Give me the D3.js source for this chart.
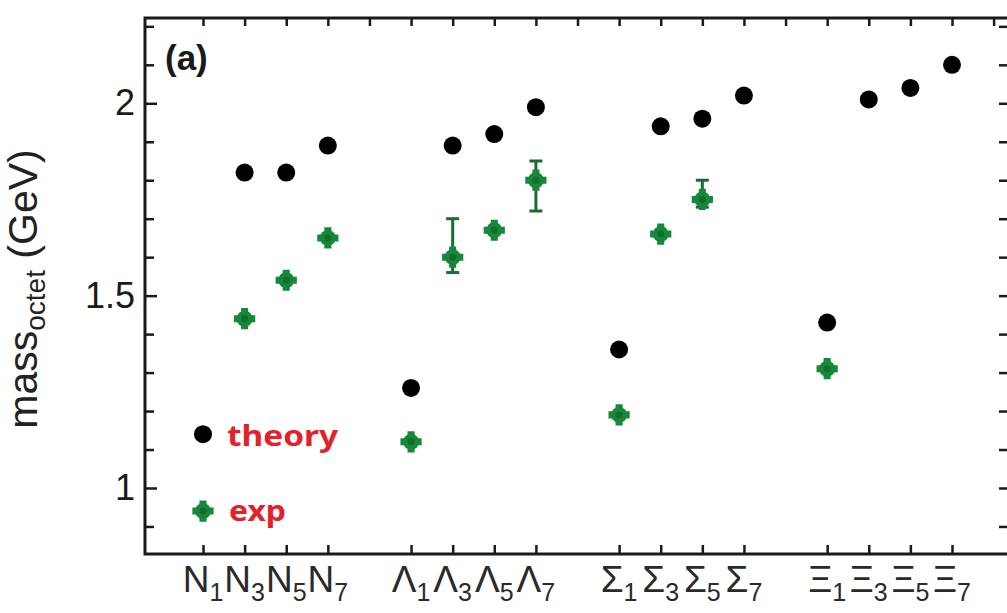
<!DOCTYPE html>
<html>
<head>
<meta charset="utf-8">
<script src="https://cdn.jsdelivr.net/npm/d3@7"></script>
<style>
  body { margin: 0; background: #fff; }
  svg { display: block; }
</style>
</head>
<body>
<div class="chart"></div>
<script>
'use strict';

// Data
const families = ['N', 'Λ', 'Σ', 'Ξ'];
const levels = ['1', '3', '5', '7'];
const theory = [1.14, 1.82, 1.82, 1.89, 1.26, 1.89, 1.92, 1.99, 1.36, 1.94, 1.96, 2.02, 1.43, 2.01, 2.04, 2.10];
const expMass = [0.94, 1.44, 1.54, 1.65, 1.12, 1.60, 1.67, 1.80, 1.19, 1.66, 1.75, null, 1.31, null, null, null];
const expLow = [null, null, null, null, null, 1.56, null, 1.72, null, null, 1.73, null, null, null, null, null];
const expHigh = [null, null, null, null, null, 1.70, null, 1.85, null, null, 1.80, null, null, null, null, null];
const yTicks = [0.9, 1.0, 1.1, 1.2, 1.3, 1.4, 1.5, 1.6, 1.7, 1.8, 1.9, 2.0, 2.1, 2.2];
const yLabels = [1, 1.5, 2];
const topTicks = d3.range(0, 20);

// Initialize
const w = 1007;
const h = 613;
const padL = 145, padR = 1009, padT = 18, padB = 554;
const ink = '#1a1a1a';
const green = '#17883a';
const darkGreen = '#1d6b30';
const red = '#e3212b';

const svg = d3.select('.chart')
  .append('svg')
  .attr('width', w)
  .attr('height', h);

// category i sits at slot i + group gap
const slot = i => i + Math.floor(i / levels.length);
const cats = families.flatMap(f => levels.map(l => ({ f, l })));

const xScale = d3.scaleLinear().domain([-1.394, 19.37]).range([padL, padR]);
const yScale = d3.scaleLinear().domain([0.8284, 2.2217]).range([padB, padT]);

// Frame
svg.append('rect')
  .attr('x', padL).attr('y', padT)
  .attr('width', padR - padL).attr('height', padB - padT)
  .attr('fill', 'none').attr('stroke', ink).attr('stroke-width', 3);

// Axes
const isLabel = d => yLabels.some(v => Math.abs(v - d) < 1e-6);

const yAxis = svg.append('g')
  .attr('transform', `translate(${padL},0)`)
  .call(d3.axisLeft(yScale).tickValues(yTicks).tickSize(-9).tickSizeOuter(0).tickPadding(10)
    .tickFormat(d => isLabel(d) ? d3.format('~g')(d) : ''));
yAxis.select('.domain').remove();
yAxis.selectAll('.tick line').attr('stroke', ink).attr('stroke-width', 2.5)
  .attr('x2', d => isLabel(d) ? 12 : 9);
yAxis.selectAll('.tick text')
  .attr('fill', ink)
  .style('font-family', '"Liberation Sans", Arial, sans-serif')
  .style('font-size', '36px');

const rAxis = svg.append('g')
  .attr('transform', `translate(${padR},0)`)
  .call(d3.axisRight(yScale).tickValues(yTicks).tickSize(-10).tickSizeOuter(0).tickFormat(''));
rAxis.select('.domain').remove();
rAxis.selectAll('.tick line').attr('stroke', ink).attr('stroke-width', 2.5);

const tAxis = svg.append('g')
  .attr('transform', `translate(0,${padT})`)
  .call(d3.axisTop(xScale).tickValues(topTicks).tickSize(-8).tickSizeOuter(0).tickFormat(''));
tAxis.select('.domain').remove();
tAxis.selectAll('.tick line').attr('stroke', ink).attr('stroke-width', 2.5);

const bAxis = svg.append('g')
  .attr('transform', `translate(0,${padB})`)
  .call(d3.axisBottom(xScale).tickValues(cats.map((c, i) => slot(i))).tickSize(-9).tickSizeOuter(0).tickFormat(''));
bAxis.select('.domain').remove();
bAxis.selectAll('.tick line').attr('stroke', ink).attr('stroke-width', 2.5);

// Category labels with subscripts
const catText = svg.append('g')
  .selectAll('text')
  .data(cats)
  .enter()
  .append('text')
  .attr('x', (d, i) => xScale(slot(i)))
  .attr('y', padB + 38)
  .attr('text-anchor', 'middle')
  .attr('fill', '#2a2a2a')
  .style('font-family', '"Liberation Sans", Arial, sans-serif')
  .style('font-size', '37px');
catText.append('tspan').text(d => d.f);
catText.append('tspan').attr('dy', 9).style('font-size', '25px').text(d => d.l);

// Y label
const yLab = svg.append('text')
  .attr('transform', `translate(37,289) rotate(-90)`)
  .attr('text-anchor', 'middle')
  .attr('fill', '#222')
  .style('font-family', '"Liberation Sans", Arial, sans-serif')
  .style('font-size', '41px');
yLab.append('tspan').text('mass');
yLab.append('tspan').attr('dy', 8).style('font-size', '28px').text('octet');
yLab.append('tspan').attr('dy', -8).text(' (GeV)');

// Panel tag
svg.append('text')
  .attr('x', 165).attr('y', 70)
  .attr('fill', ink)
  .style('font-family', '"Liberation Sans", Arial, sans-serif')
  .style('font-weight', 'bold')
  .style('font-size', '35px')
  .text('(a)');

// Error bars
const errs = expLow.map((lo, i) => ({ i, lo, hi: expHigh[i] })).filter(d => d.lo != null);
const eb = svg.append('g').attr('stroke', darkGreen).attr('stroke-width', 3);
eb.selectAll('line.v').data(errs).enter().append('line')
  .attr('x1', d => xScale(slot(d.i))).attr('x2', d => xScale(slot(d.i)))
  .attr('y1', d => yScale(d.lo)).attr('y2', d => yScale(d.hi));
['lo', 'hi'].forEach(k => {
  eb.selectAll(`line.${k}`).data(errs).enter().append('line')
    .attr('x1', d => xScale(slot(d.i)) - 6.5).attr('x2', d => xScale(slot(d.i)) + 6.5)
    .attr('y1', d => yScale(d[k])).attr('y2', d => yScale(d[k]));
});

// Experimental points (rounded cross)
const expPts = expMass.map((v, i) => ({ i, v })).filter(d => d.v != null);
const ep = svg.append('g').selectAll('g').data(expPts).enter().append('g')
  .attr('transform', d => `translate(${xScale(slot(d.i))},${yScale(d.v)})`);
ep.append('circle').attr('r', 8).attr('fill', green);
ep.append('path').attr('d', d3.symbol(d3.symbolCross, 250)).attr('fill', green);
ep.append('circle').attr('r', 3.5).attr('fill', '#0f6e2c');

// Theory points
svg.append('g').selectAll('circle').data(theory).enter().append('circle')
  .attr('cx', (d, i) => xScale(slot(i)))
  .attr('cy', d => yScale(d))
  .attr('r', 9)
  .attr('fill', '#000');

// Legend text next to the N1 points
svg.append('text')
  .attr('x', xScale(0) + 24).attr('y', yScale(theory[0]) + 12)
  .attr('fill', red)
  .attr('textLength', 111)
  .attr('lengthAdjust', 'spacingAndGlyphs')
  .style('font-family', '"Noto Sans", sans-serif')
  .style('font-weight', 'bold')
  .style('font-size', '29px')
  .text('theory');
svg.append('text')
  .attr('x', xScale(0) + 26).attr('y', yScale(expMass[0]) + 10)
  .attr('fill', red)
  .attr('textLength', 57)
  .attr('lengthAdjust', 'spacingAndGlyphs')
  .style('font-family', '"Noto Sans", sans-serif')
  .style('font-weight', 'bold')
  .style('font-size', '29px')
  .text('exp');
</script>
</body>
</html>
